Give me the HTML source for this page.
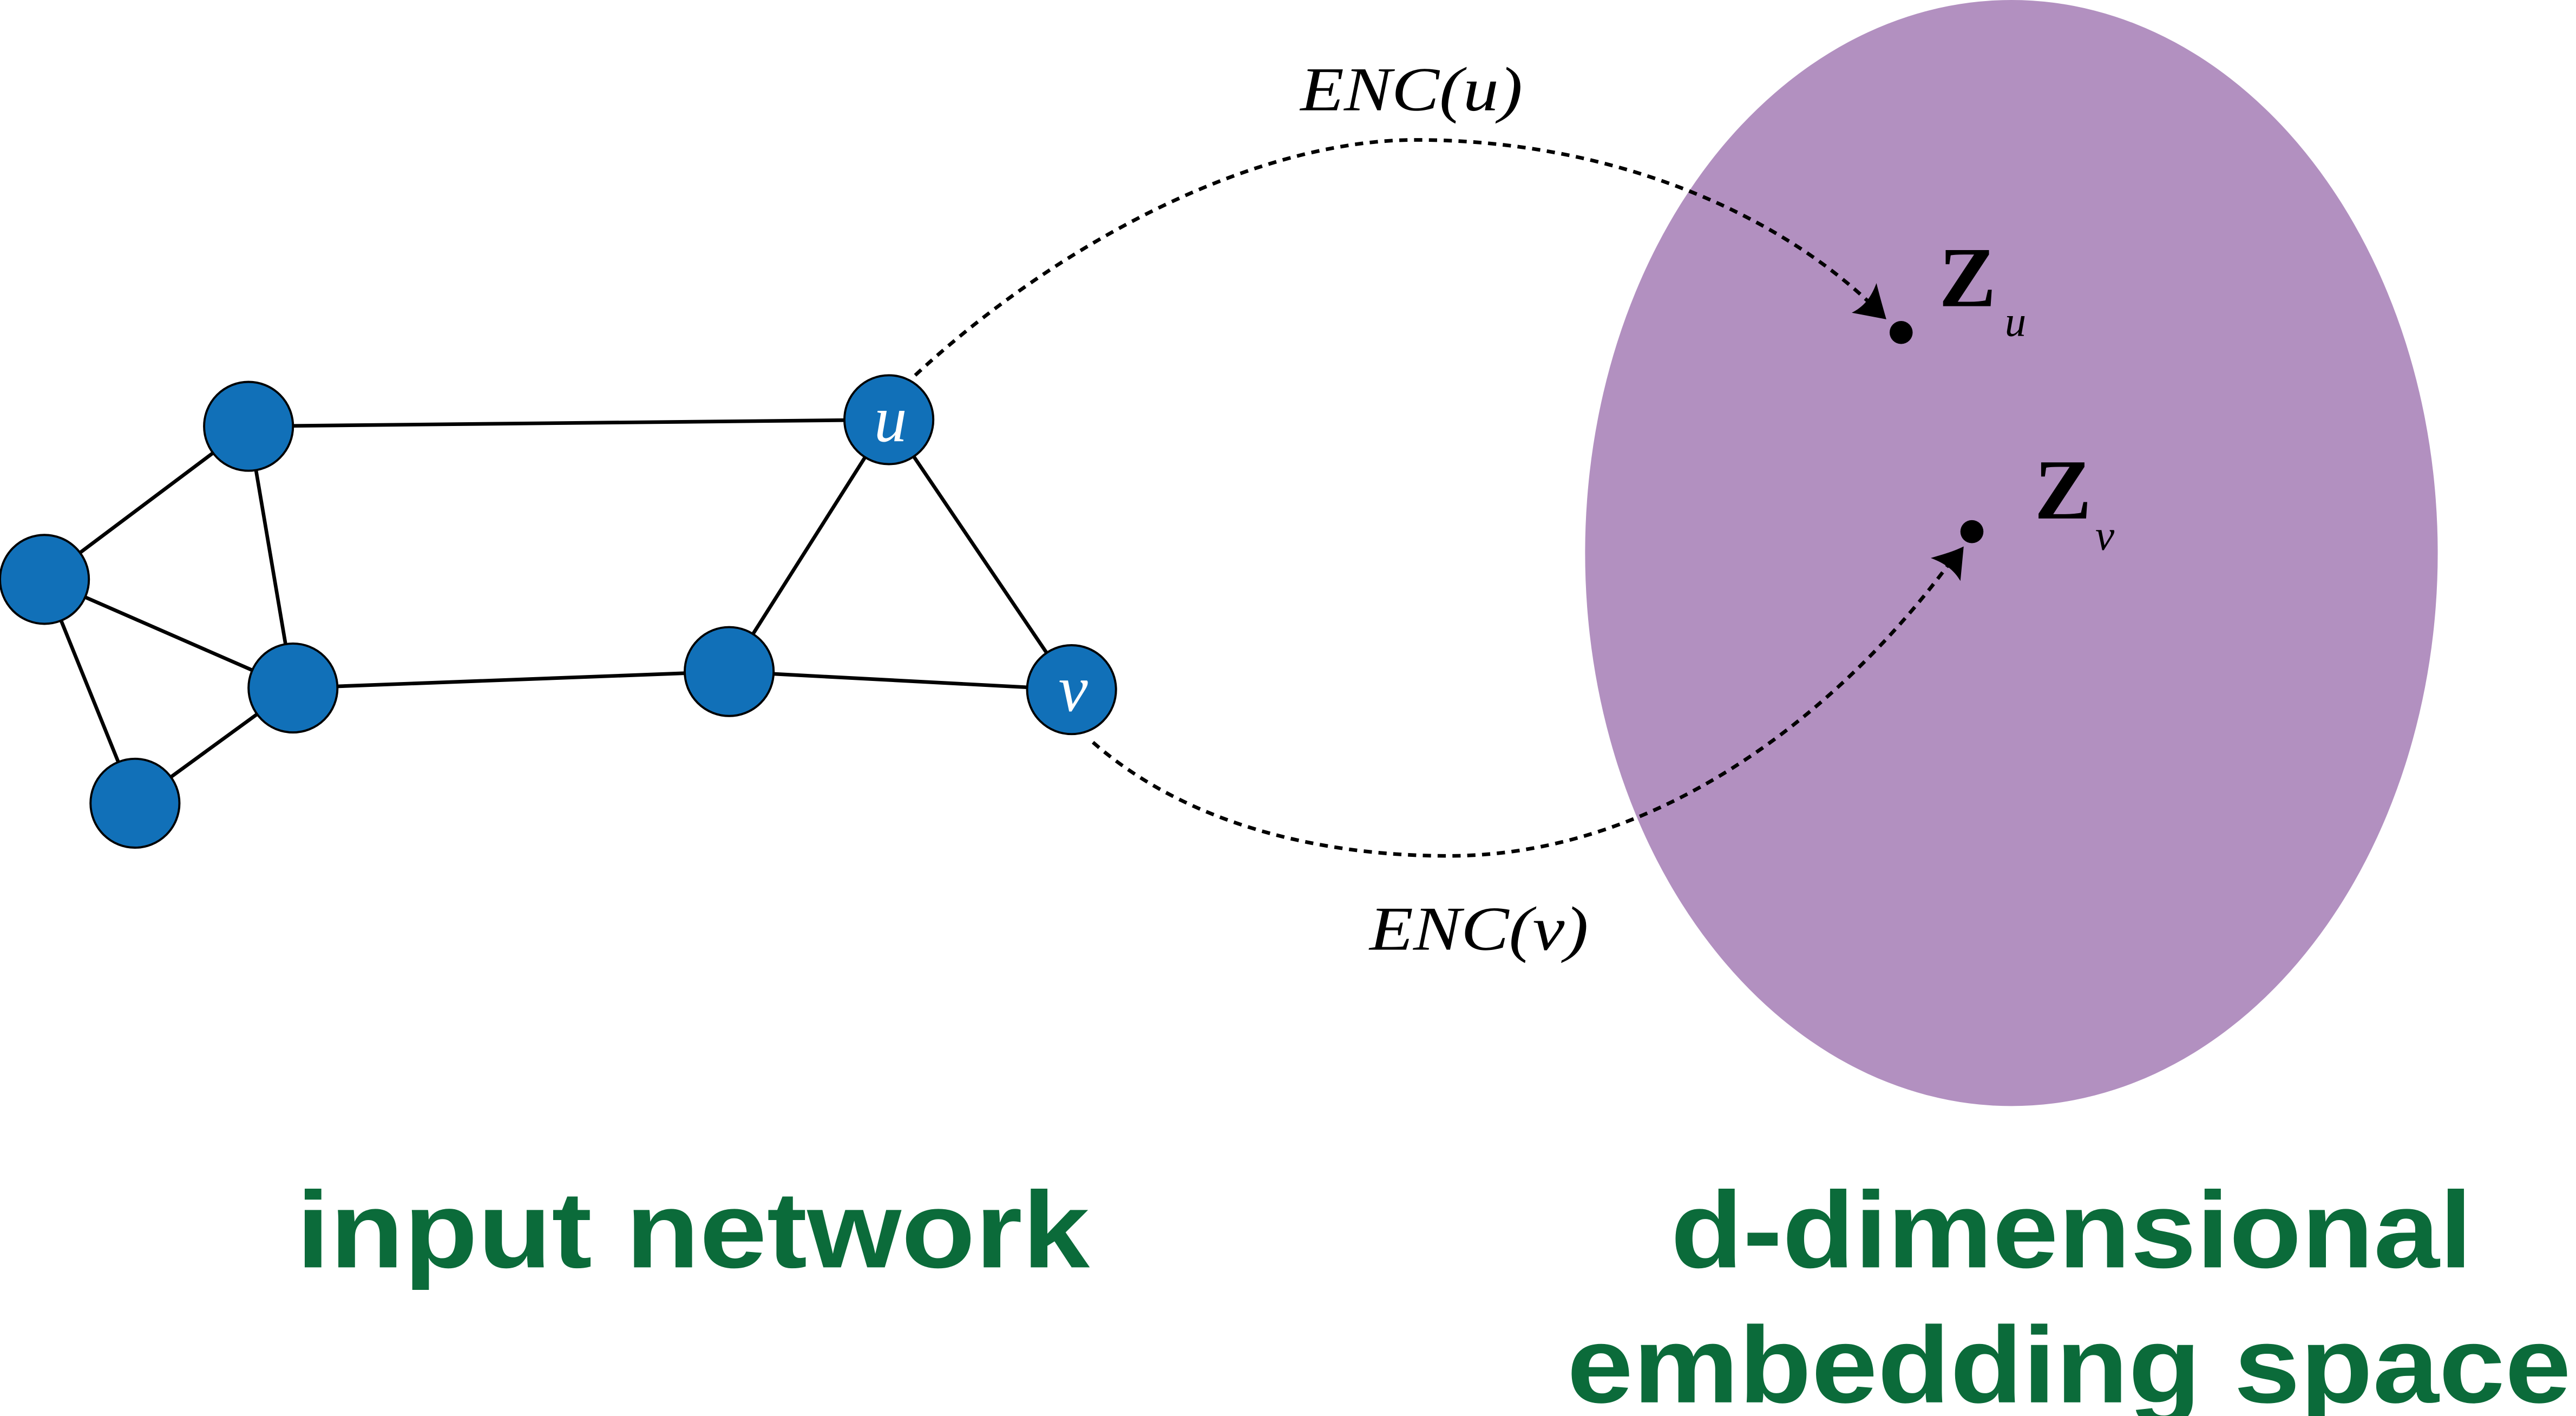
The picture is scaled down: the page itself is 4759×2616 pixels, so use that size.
<!DOCTYPE html>
<html><head><meta charset="utf-8"><style>
html,body{margin:0;padding:0;background:#fff;}
svg{display:block;}
</style></head><body>
<svg width="4759" height="2616" viewBox="0 0 1565 860.3" preserveAspectRatio="none" xmlns="http://www.w3.org/2000/svg">
<ellipse cx="1222" cy="336" rx="259" ry="336" fill="#b290c0"/>
<g stroke="#000" stroke-width="2.2" fill="none">
<line x1="151" y1="259" x2="540" y2="255"/>
<line x1="151" y1="259" x2="27" y2="352"/>
<line x1="151" y1="259" x2="178" y2="418"/>
<line x1="27" y1="352" x2="178" y2="418"/>
<line x1="27" y1="352" x2="82" y2="488"/>
<line x1="82" y1="488" x2="178" y2="418"/>
<line x1="178" y1="418" x2="443" y2="408"/>
<line x1="443" y1="408" x2="651" y2="419"/>
<line x1="443" y1="408" x2="540" y2="255"/>
<line x1="540" y1="255" x2="651" y2="419"/>
</g>
<g stroke="#000" stroke-width="1.3" fill="#1170b8">
<circle cx="151" cy="259" r="27"/>
<circle cx="27" cy="352" r="27"/>
<circle cx="178" cy="418" r="27"/>
<circle cx="82" cy="488" r="27"/>
<circle cx="443" cy="408" r="27"/>
<circle cx="540" cy="255" r="27"/>
<circle cx="651" cy="419" r="27"/>
</g>
<g font-family="'Liberation Serif',serif" font-style="italic" fill="#fff" font-size="40" text-anchor="middle">
<text x="541" y="268">u</text>
<text x="652" y="432">v</text>
</g>
<g stroke="#000" stroke-width="2.2" fill="none" stroke-dasharray="5,4">
<path d="M556,228 C640,150 760,85 860,85 C980,85 1080,130 1138,186"/>
<path d="M664,451 C720,500 800,520 880,520 C1010,520 1120,430 1186,340"/>
</g>
<path d="M1146,194 L1125,190 C1133,186 1137,180 1140,172 C1142,180 1144,187 1146,194 Z" fill="#000"/>
<path d="M1193,332 L1191,353 C1187,346 1181,342 1173,339 C1180,337 1187,335 1193,332 Z" fill="#000"/>
<circle cx="1155" cy="202" r="7" fill="#000"/>
<circle cx="1198" cy="323" r="7" fill="#000"/>
<g font-family="'Liberation Serif',serif" font-weight="bold" font-size="52" fill="#000">
<text x="1178" y="186">Z</text>
<text x="1236" y="315">Z</text>
</g>
<g font-family="'Liberation Serif',serif" font-style="italic" font-size="26" fill="#000">
<text x="1218" y="204">u</text>
<text x="1273" y="334">v</text>
</g>
<g font-family="'Liberation Serif',serif" font-style="italic" font-size="38" fill="#000">
<text x="790" y="67" textLength="135" lengthAdjust="spacingAndGlyphs">ENC(u)</text>
<text x="832" y="577" textLength="133" lengthAdjust="spacingAndGlyphs">ENC(v)</text>
</g>
<g font-family="'Liberation Sans',sans-serif" font-weight="bold" font-size="66" fill="#0b6b3a">
<text x="180" y="770" textLength="482" lengthAdjust="spacingAndGlyphs">input network</text>
<text x="1015" y="770" textLength="487" lengthAdjust="spacingAndGlyphs">d-dimensional</text>
<text x="952" y="852" textLength="610" lengthAdjust="spacingAndGlyphs">embedding space</text>
</g>
</svg>
</body></html>
